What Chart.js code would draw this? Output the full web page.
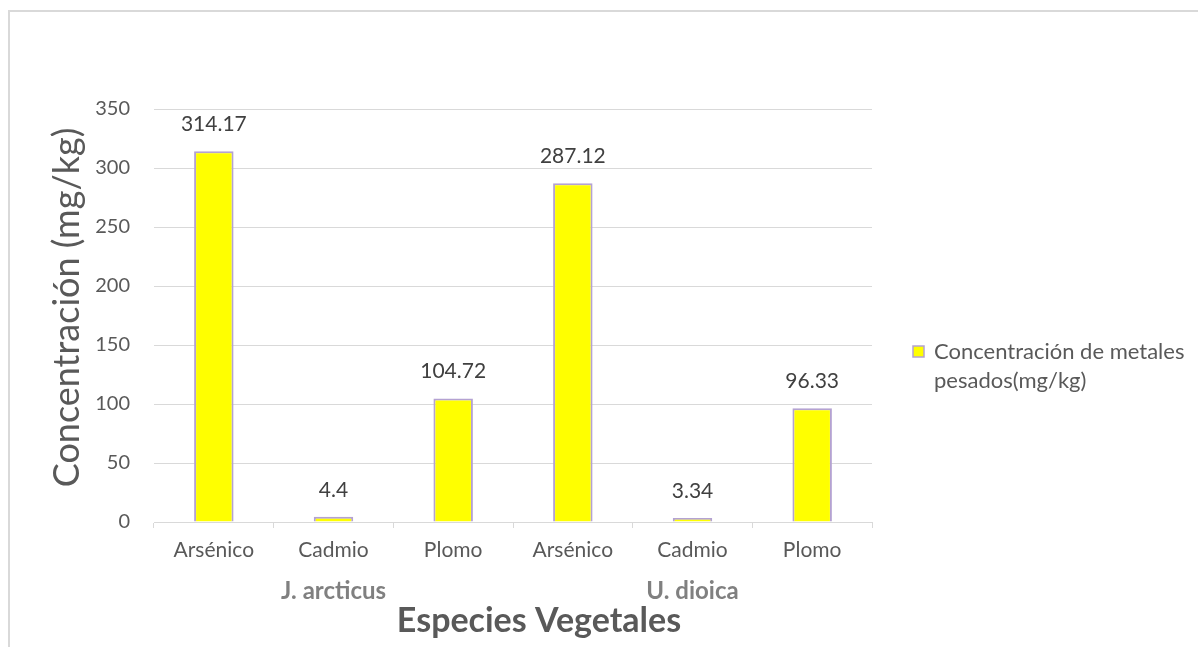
<!DOCTYPE html>
<html>
<head>
<meta charset="utf-8">
<script src="https://cdn.jsdelivr.net/npm/chart.js@4"></script>
<style>
    html, body { margin: 0; padding: 0; background: #fff; }
    #wrap { width: 1198px; height: 647px; }
</style>
</head>
<body>
<div id="wrap"><canvas id="metalesChart"></canvas></div>
<script>
/****************************** Data ********************************/
const metales = ["Arsénico", "Cadmio", "Plomo", "Arsénico", "Cadmio", "Plomo"];
const especies = ["", "J. arcticus", "", "", "U. dioica", ""];
const concentracion = [314.17, 4.4, 104.72, 287.12, 3.34, 96.33];
const serieLabel = "Concentración de metales pesados(mg/kg)";
const yTicks = [0, 50, 100, 150, 200, 250, 300, 350];
const yTitle = "Concentración (mg/kg)";
const xTitle = "Especies Vegetales";

const FONT = "Lato, 'Open Sans', sans-serif";
const gridColor = "#d9d9d9";

/****************************** Plugins ********************************/
// white page + the light frame round the chart
const framePlugin = {
    id: "frame",
    beforeDraw(chart) {
        const c = chart.ctx;
        c.save();
        c.fillStyle = "#fff";
        c.fillRect(0, 0, chart.width, chart.height);
        c.strokeStyle = gridColor;
        c.lineWidth = 2;
        c.beginPath();
        c.moveTo(9, chart.height);
        c.lineTo(9, 11);
        c.lineTo(chart.width, 11);
        c.stroke();
        c.restore();
    }
};

// value labels above the bars
const valueLabels = {
    id: "valueLabels",
    afterDatasetsDraw(chart) {
        const c = chart.ctx;
        const meta = chart.getDatasetMeta(0);
        c.save();
        c.font = "21px " + FONT;
        c.fillStyle = "#404040";
        c.textAlign = "center";
        c.textBaseline = "middle";
        meta.data.forEach((bar, i) => {
            c.fillText(String(chart.data.datasets[0].data[i]), bar.x, bar.y - 27);
        });
        c.restore();
    }
};

// axis titles, placed like Excel does (a bit off the plot centre)
const axisTitles = {
    id: "axisTitles",
    afterDraw(chart) {
        const c = chart.ctx;
        const area = chart.chartArea;
        c.save();
        c.fillStyle = "#595959";
        c.textAlign = "center";
        c.textBaseline = "middle";

        c.font = "bold 34px " + FONT;
        c.fillText(xTitle, (area.left + area.right) / 2 + 26, 621);

        c.translate(67, (area.top + area.bottom) / 2 - 8);
        c.rotate(-Math.PI / 2);
        c.font = "36px " + FONT;
        c.fillText(yTitle, 0, 0);
        c.restore();
    }
};

// legend on the right, wrapped on two lines like the original
const sideLegend = {
    id: "sideLegend",
    afterDraw(chart) {
        const c = chart.ctx;
        const ds = chart.data.datasets[0];
        c.save();
        c.font = "22px " + FONT;
        const words = ds.label.split(" ");
        const lines = [];
        let line = "";
        words.forEach(w => {
            const test = line ? line + " " + w : w;
            if (c.measureText(test).width > 260 && line) {
                lines.push(line);
                line = w;
            } else {
                line = test;
            }
        });
        lines.push(line);

        const x = chart.chartArea.right + 41;
        const y = 352;
        c.fillStyle = ds.backgroundColor;
        c.strokeStyle = ds.borderColor;
        c.lineWidth = 1.5;
        c.fillRect(x, y - 6, 11, 11);
        c.strokeRect(x, y - 6, 11, 11);

        c.fillStyle = "#595959";
        c.textAlign = "left";
        c.textBaseline = "middle";
        lines.forEach((l, i) => c.fillText(l, x + 21, y + i * 29));
        c.restore();
    }
};

/****************************** Chart ********************************/
const ctx = document.getElementById("metalesChart").getContext("2d");

new Chart(ctx, {
    type: "bar",
    data: {
        labels: metales,
        datasets: [{
            label: serieLabel,
            data: concentracion,
            backgroundColor: "#ffff00",
            borderColor: "#b4a2d2",
            borderWidth: 2,
            barPercentage: 0.33,
            categoryPercentage: 1
        }]
    },
    options: {
        responsive: true,
        maintainAspectRatio: false,
        animation: false,
        layout: {
            padding: { left: 8, top: 109, right: 326, bottom: 0 }
        },
        plugins: {
            legend: { display: false },
            tooltip: { enabled: false }
        },
        scales: {
            x: {
                position: "bottom",
                offset: true,
                grid: {
                    offset: true,
                    drawOnChartArea: false,
                    tickLength: 6,
                    color: gridColor
                },
                border: { color: gridColor, width: 1 },
                ticks: {
                    color: "#595959",
                    font: { family: FONT, size: 21 },
                    padding: 10,
                    maxRotation: 0,
                    autoSkip: false
                },
                afterFit(scale) { scale.height = 40; }
            },
            x2: {
                type: "category",
                position: "bottom",
                labels: especies,
                offset: true,
                grid: { display: false, drawTicks: false },
                border: { display: false },
                ticks: {
                    color: "#808080",
                    font: { family: FONT, size: 24, weight: "bold" },
                    padding: 15,
                    maxRotation: 0,
                    autoSkip: false
                },
                afterFit(scale) { scale.height = 85; }
            },
            y: {
                min: 0,
                max: 350,
                afterBuildTicks(scale) {
                    scale.ticks = yTicks.map(v => ({ value: v }));
                },
                grid: {
                    color: gridColor,
                    drawTicks: false
                },
                border: { display: false },
                ticks: {
                    color: "#595959",
                    font: { family: FONT, size: 20 },
                    padding: 24
                },
                afterFit(scale) { scale.width = 146; }
            }
        }
    },
    plugins: [framePlugin, valueLabels, axisTitles, sideLegend]
});
</script>
</body>
</html>
